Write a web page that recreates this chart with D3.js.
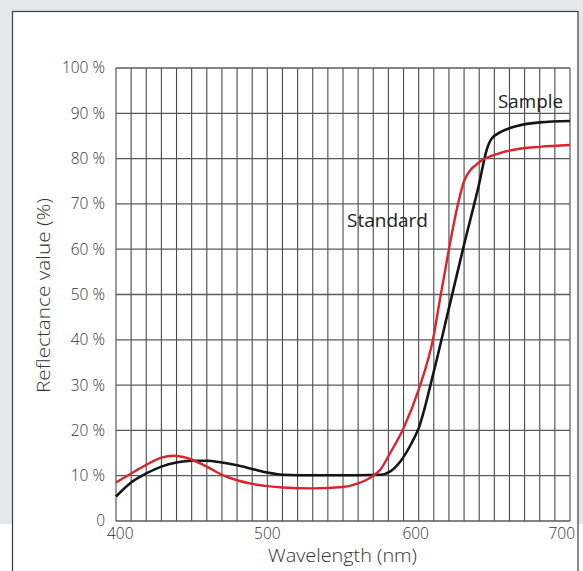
<!DOCTYPE html>
<html><head><meta charset="utf-8">
<script src="https://cdn.jsdelivr.net/npm/d3@7"></script>
<style>body{margin:0;background:#fff}svg{display:block}</style>
</head><body>
<svg id="c" width="583" height="571"></svg>
<script>
// Wavelength (nm) and reflectance (%) readings
const sampleNm  = [400,410,420,430,440,450,460,470,480,490,500,510,520,540,560,575,581,588,595,600,610,620,630,640,645,648,655,665,680,700];
const sampleVal = [5.4,8.5,10.5,12,12.9,13.3,13.3,12.9,12.3,11.5,10.7,10.2,10.1,10.1,10.1,10.2,10.9,13.2,17,20.5,33,47,61,74.5,82,84.3,86,87.2,88,88.3];
const standardNm  = [400,410,420,430,438,448,460,470,480,490,500,510,530,550,560,565,570,575,581,590,600,610,614,620,626,630,640,650,662,680,700];
const standardVal = [8.5,10.5,12.4,14,14.4,13.8,12,10.2,9,8.2,7.7,7.4,7.2,7.5,8.3,9,10,11.5,14.9,20.5,29,41,48.8,60,70,75,79.2,80.8,81.9,82.6,83];
const xTickValues = [400,500,600,700];
const yTickValues = [0,10,20,30,40,50,60,70,80,90,100];
const yTickLabels = ["0","10 %","20 %","30 %","40 %","50 %","60 %","70 %","80 %","90 %","100 %"];
const seriesNames = ["Sample","Standard"];

const svg = d3.select("#c");
const font = "'Open Sans', Lato, sans-serif";
const txt = "#333";

// background
svg.append("rect").attr("x",0).attr("y",0).attr("width",583).attr("height",524).attr("fill","#e6e7e8");
svg.append("rect").attr("x",12.5).attr("y",11.5).attr("width",565.5).attr("height",580)
  .attr("fill","#fff").attr("stroke","#3c3c3c").attr("stroke-width",1.2);

const x = d3.scaleLinear().domain([400,700]).range([116,570]);
const y = d3.scaleLinear().domain([0,100]).range([521,68]);

const g = svg.append("g");
// vertical grid every 10 nm
g.selectAll("line.v").data(d3.range(400,701,10)).join("line")
  .attr("x1",d=>x(d)).attr("x2",d=>x(d)).attr("y1",y(0)).attr("y2",y(100))
  .attr("stroke","#4a4a4a").attr("stroke-width",1.1);
g.selectAll("line.h").data(yTickValues).join("line")
  .attr("x1",x(400)).attr("x2",x(700)).attr("y1",d=>y(d)).attr("y2",d=>y(d))
  .attr("stroke","#5a5a5a").attr("stroke-width",1.3);

// y tick labels
svg.selectAll("text.yl").data(yTickValues).join("text")
  .attr("x",105).attr("y",d=>y(d)).attr("dy","0.35em").attr("text-anchor","end")
  .attr("font-family",font).attr("font-weight",300).attr("font-size",15.5).attr("fill",txt)
  .text((d,i)=>yTickLabels[i]);
// x tick labels
svg.selectAll("text.xl").data(xTickValues).join("text")
  .attr("x",d=> d===400 ? x(d)-9 : d===700 ? x(d)+5 : x(d)-(d===600?3:0))
  .attr("y",539)
  .attr("text-anchor",d=> d===400 ? "start" : d===700 ? "end" : "middle")
  .attr("font-family",font).attr("font-weight",300).attr("font-size",15.5).attr("fill",txt)
  .text(d=>d);

// axis titles
svg.append("text").attr("transform","translate(50,295.5) rotate(-90)")
  .attr("text-anchor","middle").attr("font-family",font).attr("font-weight",300).attr("font-size",17.5).attr("fill",txt)
  .attr("textLength",195).attr("lengthAdjust","spacingAndGlyphs")
  .text("Reflectance value (%)");
svg.append("text").attr("x",342.5).attr("y",562).attr("text-anchor","middle")
  .attr("font-family",font).attr("font-weight",300).attr("font-size",17.5).attr("fill",txt)
  .attr("textLength",149).attr("lengthAdjust","spacingAndGlyphs")
  .text("Wavelength (nm)");

const line = d3.line().x(d=>x(d[0])).y(d=>y(d[1])).curve(d3.curveMonotoneX);
const sample = sampleNm.map((v,i)=>[v,sampleVal[i]]);
const standard = standardNm.map((v,i)=>[v,standardVal[i]]);
svg.append("path").attr("d",line(sample)).attr("fill","none").attr("stroke","#151515").attr("stroke-width",2.6);
svg.append("path").attr("d",line(standard)).attr("fill","none").attr("stroke","#d8262f").attr("stroke-width",2.4);

svg.append("text").attr("x",563).attr("y",108).attr("text-anchor","end")
  .attr("font-family",font).attr("font-weight",400).attr("font-size",18).attr("fill","#222")
  .attr("textLength",65).attr("lengthAdjust","spacingAndGlyphs").text(seriesNames[0]);
svg.append("text").attr("x",347).attr("y",227).attr("text-anchor","start")
  .attr("font-family",font).attr("font-weight",400).attr("font-size",18).attr("fill","#222")
  .attr("textLength",81).attr("lengthAdjust","spacingAndGlyphs").text(seriesNames[1]);
</script>
</body></html>
